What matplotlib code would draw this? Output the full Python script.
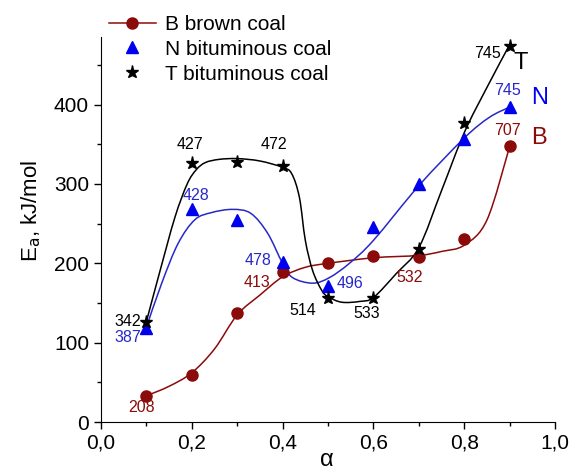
import numpy as np
import matplotlib
matplotlib.use('Agg')
import matplotlib.pyplot as plt
from matplotlib.path import Path
from matplotlib.patches import PathPatch
from matplotlib.ticker import MultipleLocator

plt.rcParams['font.family'] = ['Liberation Sans', 'DejaVu Sans']

# measured points
alpha = [0.1, 0.2, 0.3, 0.4, 0.5, 0.6, 0.7, 0.8, 0.9]
b_brown = [33, 59, 138, 189, 200, 209, 208, 231, 348]
n_bitum = [119, 268, 255, 202, 172, 246, 300, 357, 397]
t_bitum = [126, 327, 328, 323, 156, 156, 218, 377, 474]

# fitted curves
b_fit_x = [0.10, 0.15, 0.20, 0.25, 0.30, 0.35, 0.40, 0.45, 0.50, 0.60, 0.70, 0.75, 0.80, 0.85, 0.90]
b_fit_y = [33, 45, 62, 92, 135, 160, 183, 195, 200, 207, 210, 215, 223, 255, 348]
n_fit_x = [0.10, 0.134, 0.17, 0.207, 0.244, 0.29, 0.33, 0.367, 0.40, 0.422, 0.466, 0.503, 0.547, 0.60, 0.70, 0.80, 0.855, 0.90]
n_fit_y = [119, 175, 225, 255, 264, 268, 263, 238, 200, 182, 175, 182, 200, 229, 298, 358, 384, 397]
t_fit_x = [0.10, 0.13, 0.163, 0.19, 0.21, 0.23, 0.26, 0.30, 0.35, 0.40, 0.42, 0.437, 0.45, 0.466, 0.486, 0.50, 0.53, 0.57, 0.60, 0.65, 0.70, 0.75, 0.80, 0.85, 0.90]
t_fit_y = [126, 190, 258, 300, 318, 327, 331, 332, 329, 321, 313, 283, 229, 191, 166, 158, 151, 152, 157, 187, 220, 292, 365, 422, 476]

# point annotations: (text, x, y)
b_notes = [('208', 0.09, 18), ('413', 0.343, 176), ('532', 0.68, 182), ('707', 0.895, 368)]
n_notes = [('387', 0.06, 107), ('428', 0.21, 285), ('478', 0.345, 204), ('496', 0.548, 175), ('745', 0.895, 418)]
t_notes = [('342', 0.06, 127), ('427', 0.197, 350), ('472', 0.382, 350), ('514', 0.444, 141),
           ('533', 0.585, 137), ('745', 0.852, 464)]

xtick_vals = [0.0, 0.2, 0.4, 0.6, 0.8, 1.0]
xtick_labels = ['0,0', '0,2', '0,4', '0,6', '0,8', '1,0']
ytick_vals = [0, 100, 200, 300, 400]

brown = '#8b0a0a'
blue = '#0000f0'
blue_line = '#2828c8'


def smooth_path(xs, ys):
    # catmull-rom segments drawn as cubic bezier
    p = np.column_stack([xs, ys]).astype(float)
    p = np.vstack([p[0], p, p[-1]])
    verts = [p[1]]
    codes = [Path.MOVETO]
    for i in range(1, len(p) - 2):
        c1 = p[i] + (p[i + 1] - p[i - 1]) / 6
        c2 = p[i + 1] - (p[i + 2] - p[i]) / 6
        verts += [c1, c2, p[i + 1]]
        codes += [Path.CURVE4] * 3
    return Path(verts, codes)


fig = plt.figure(figsize=(5.73, 4.71), dpi=100)
ax = fig.add_axes([0.176, 0.104, 0.793, 0.817])

for fx, fy, col in [(b_fit_x, b_fit_y, brown), (n_fit_x, n_fit_y, blue_line), (t_fit_x, t_fit_y, 'black')]:
    ax.add_patch(PathPatch(smooth_path(fx, fy), fill=False, edgecolor=col, lw=1.1, zorder=2))

ax.plot(alpha, b_brown, 'o', color=brown, ms=8, zorder=3)
ax.plot(alpha, n_bitum, '^', color=blue, ms=9, zorder=3)
ax.plot(alpha, t_bitum, '*', color='black', ms=9.5, zorder=4)

# legend handles
hb, = ax.plot([], [], '-o', color=brown, ms=8, lw=1.1, label='B brown coal')
hn, = ax.plot([], [], '^', color=blue, ms=9, label='N bituminous coal')
ht, = ax.plot([], [], '*', color='black', ms=9.5, label='T bituminous coal')
ax.legend(handles=[hb, hn, ht], loc='upper left', bbox_to_anchor=(0.018, 1.058), frameon=False,
          fontsize=15, handlelength=2.25, handletextpad=0.45, labelspacing=0.28, borderaxespad=0,
          borderpad=0)

for notes, col in [(b_notes, brown), (n_notes, blue_line), (t_notes, 'black')]:
    for txt, x, y in notes:
        ax.text(x, y, txt, color=col, fontsize=11.5, ha='center', va='center')

ax.text(0.965, 358, 'B', color=brown, fontsize=17, ha='center', va='center')
ax.text(0.965, 408, 'N', color=blue, fontsize=17, ha='center', va='center')
ax.text(0.924, 452, 'T', color='black', fontsize=17, ha='center', va='center')

ax.set_xlim(0, 1.0)
ax.set_ylim(0, 485)
ax.set_xticks(xtick_vals)
ax.set_xticklabels(xtick_labels)
ax.set_yticks(ytick_vals)
ax.xaxis.set_minor_locator(MultipleLocator(0.1))
ax.yaxis.set_minor_locator(MultipleLocator(50))
ax.tick_params(which='major', direction='out', length=5, width=1, labelsize=15)
ax.tick_params(which='minor', direction='out', length=3, width=1)
ax.spines['top'].set_visible(False)
ax.spines['right'].set_visible(False)

ax.set_ylabel('E$_\\mathrm{a}$, kJ/mol', fontsize=16)
ax.yaxis.set_label_coords(-0.128, 0.55)
ax.set_xlabel('α', fontsize=17)
ax.xaxis.set_label_coords(0.498, -0.07)

plt.savefig('out.png', dpi=100)
plt.close(fig)
